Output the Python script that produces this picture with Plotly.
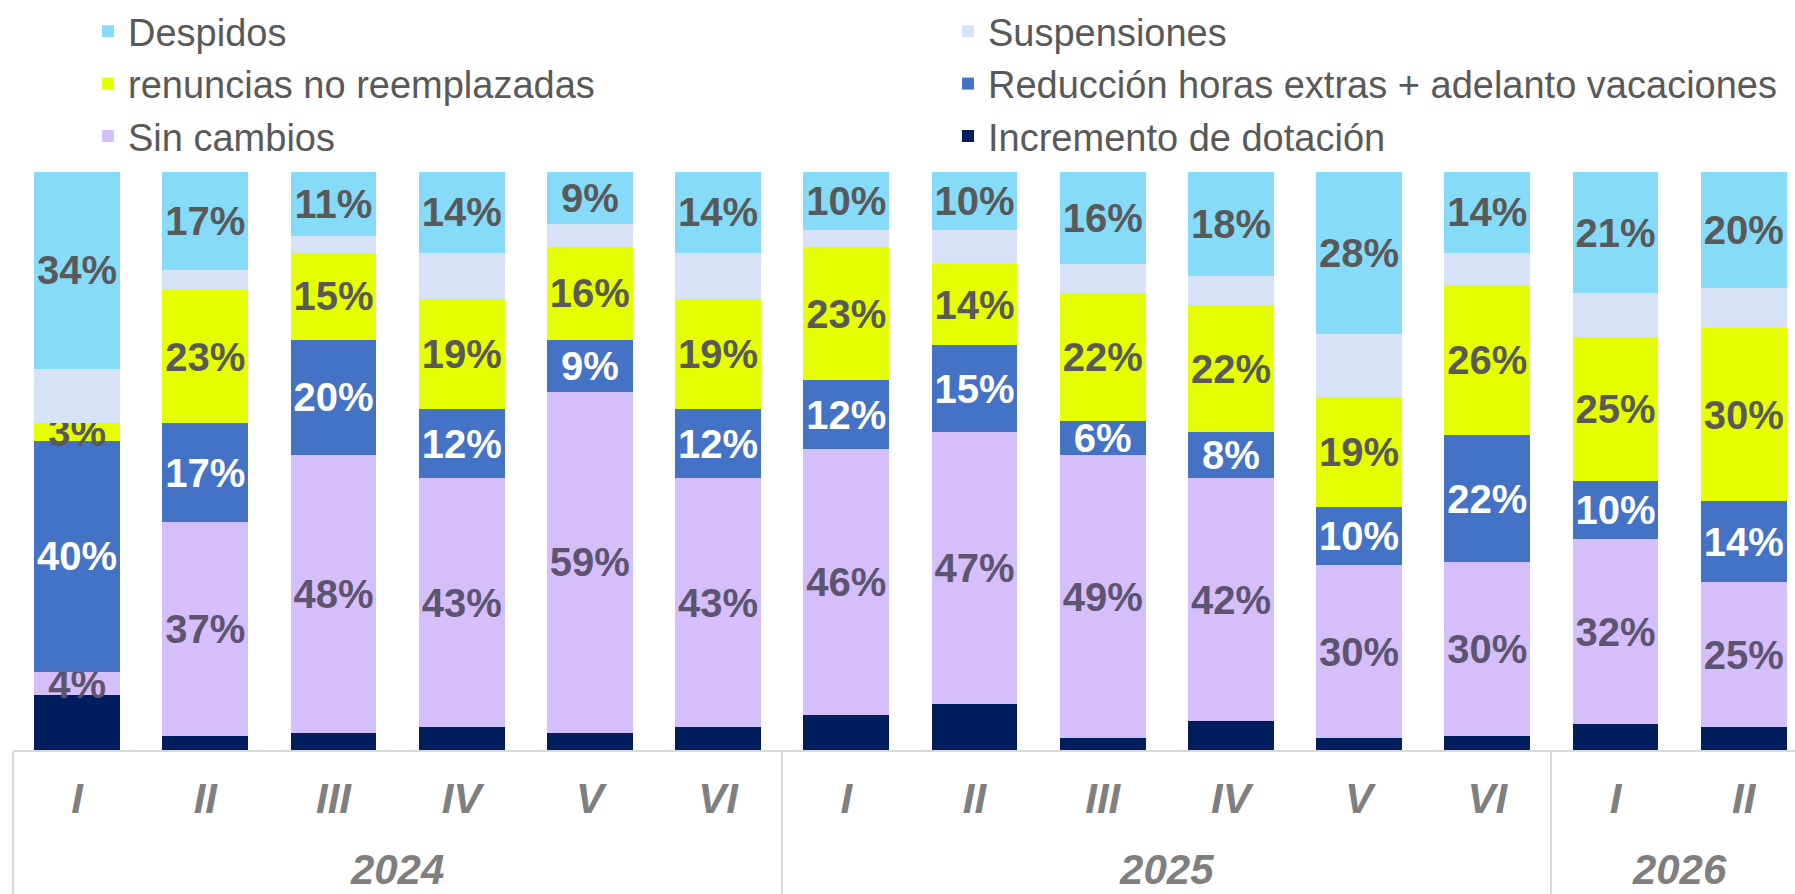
import plotly.graph_objects as go

# ---- data ----
years = ["2024"] * 6 + ["2025"] * 6 + ["2026"] * 2
periods = ["I", "II", "III", "IV", "V", "VI",
           "I", "II", "III", "IV", "V", "VI",
           "I", "II"]

despidos = [34, 17, 11, 14, 9, 14, 10, 10, 16, 18, 28, 14, 21, 20]
suspensiones = [9.5, 3.5, 3, 8, 4, 8, 3, 6, 5, 5, 11, 5.5, 7.5, 7]
renuncias = [3, 23, 15, 19, 16, 19, 23, 14, 22, 22, 19, 26, 25, 30]
reduccion = [40, 17, 20, 12, 9, 12, 12, 15, 6, 8, 10, 22, 10, 14]
sin_cambios = [4, 37, 48, 43, 59, 43, 46, 47, 49, 42, 30, 30, 32, 25]
incremento = [9.5, 2.5, 3, 4, 3, 4, 6, 8, 2, 5, 2, 2.5, 4.5, 4]

FONT = "Liberation Sans, Arial, sans-serif"

# invisible wide spacer around the period label: pushes the year row lower
pad = "<span style='font-size:72px'>\u00a0</span>"
period_labels = [f"{pad}{p}{pad}" for p in periods]
x = [years, period_labels]

# (name, values, color, show label, label color, legend)
series = [
    ("Incremento de dotación", incremento, "#001E5E", False, None, "legend2"),
    ("Sin cambios", sin_cambios, "#D5BFFB", True, "#5C5470", "legend"),
    ("Reducción horas extras + adelanto vacaciones", reduccion, "#4472C4", True, "#FFFFFF", "legend2"),
    ("renuncias no reemplazadas", renuncias, "#E5FF00", True, "#595959", "legend"),
    ("Suspensiones", suspensiones, "#D6E2F6", False, None, "legend2"),
    ("Despidos", despidos, "#86DBF9", True, "#595959", "legend"),
]

fig = go.Figure()
for name, vals, color, show, tcolor, leg in series:
    fig.add_trace(go.Bar(
        x=x, y=vals, name=name, legend=leg,
        marker=dict(color=color, line=dict(width=0)),
        text=[f"{v:g}%" for v in vals] if show else None,
        textposition="inside" if show else "none",
        insidetextanchor="middle",
        textangle=0,
        constraintext="none",
        textfont=dict(family=FONT, size=40, color=tcolor, weight="bold"),
        hoverinfo="skip",
    ))

legend_common = dict(
    orientation="v", traceorder="reversed",
    font=dict(family=FONT, size=38, color="#595959"),
    bgcolor="rgba(0,0,0,0)", borderwidth=0,
    xref="container", yref="container",
    xanchor="left", yanchor="top",
    itemclick=False, itemdoubleclick=False,
)

fig.update_layout(
    width=1795, height=894,
    barmode="stack", bargap=0.33,
    plot_bgcolor="white", paper_bgcolor="white",
    margin=dict(l=13, r=0, t=172, b=144, autoexpand=False),
    showlegend=True,
    legend=dict(x=88 / 1795, y=1 + 4 / 894, **legend_common),
    legend2=dict(x=948 / 1795, y=1 + 4 / 894, **legend_common),
    xaxis=dict(
        type="multicategory",
        range=[-0.5, 13.4],
        showdividers=True, dividercolor="#D9D9D9", dividerwidth=2,
        showline=True, linecolor="#D9D9D9", linewidth=2,
        showgrid=False, ticks="",
        tickfont=dict(family=FONT, size=42, color="#7F7F7F", weight="bold", style="italic"),
        ticklabelstandoff=11,
    ),
    yaxis=dict(range=[0, 100], visible=False, showgrid=False, fixedrange=True),
)

fig.write_html(
    "out.html",
    config={"displayModeBar": False},
    post_script="document.body.style.margin='0';document.body.style.overflow='hidden';",
)
